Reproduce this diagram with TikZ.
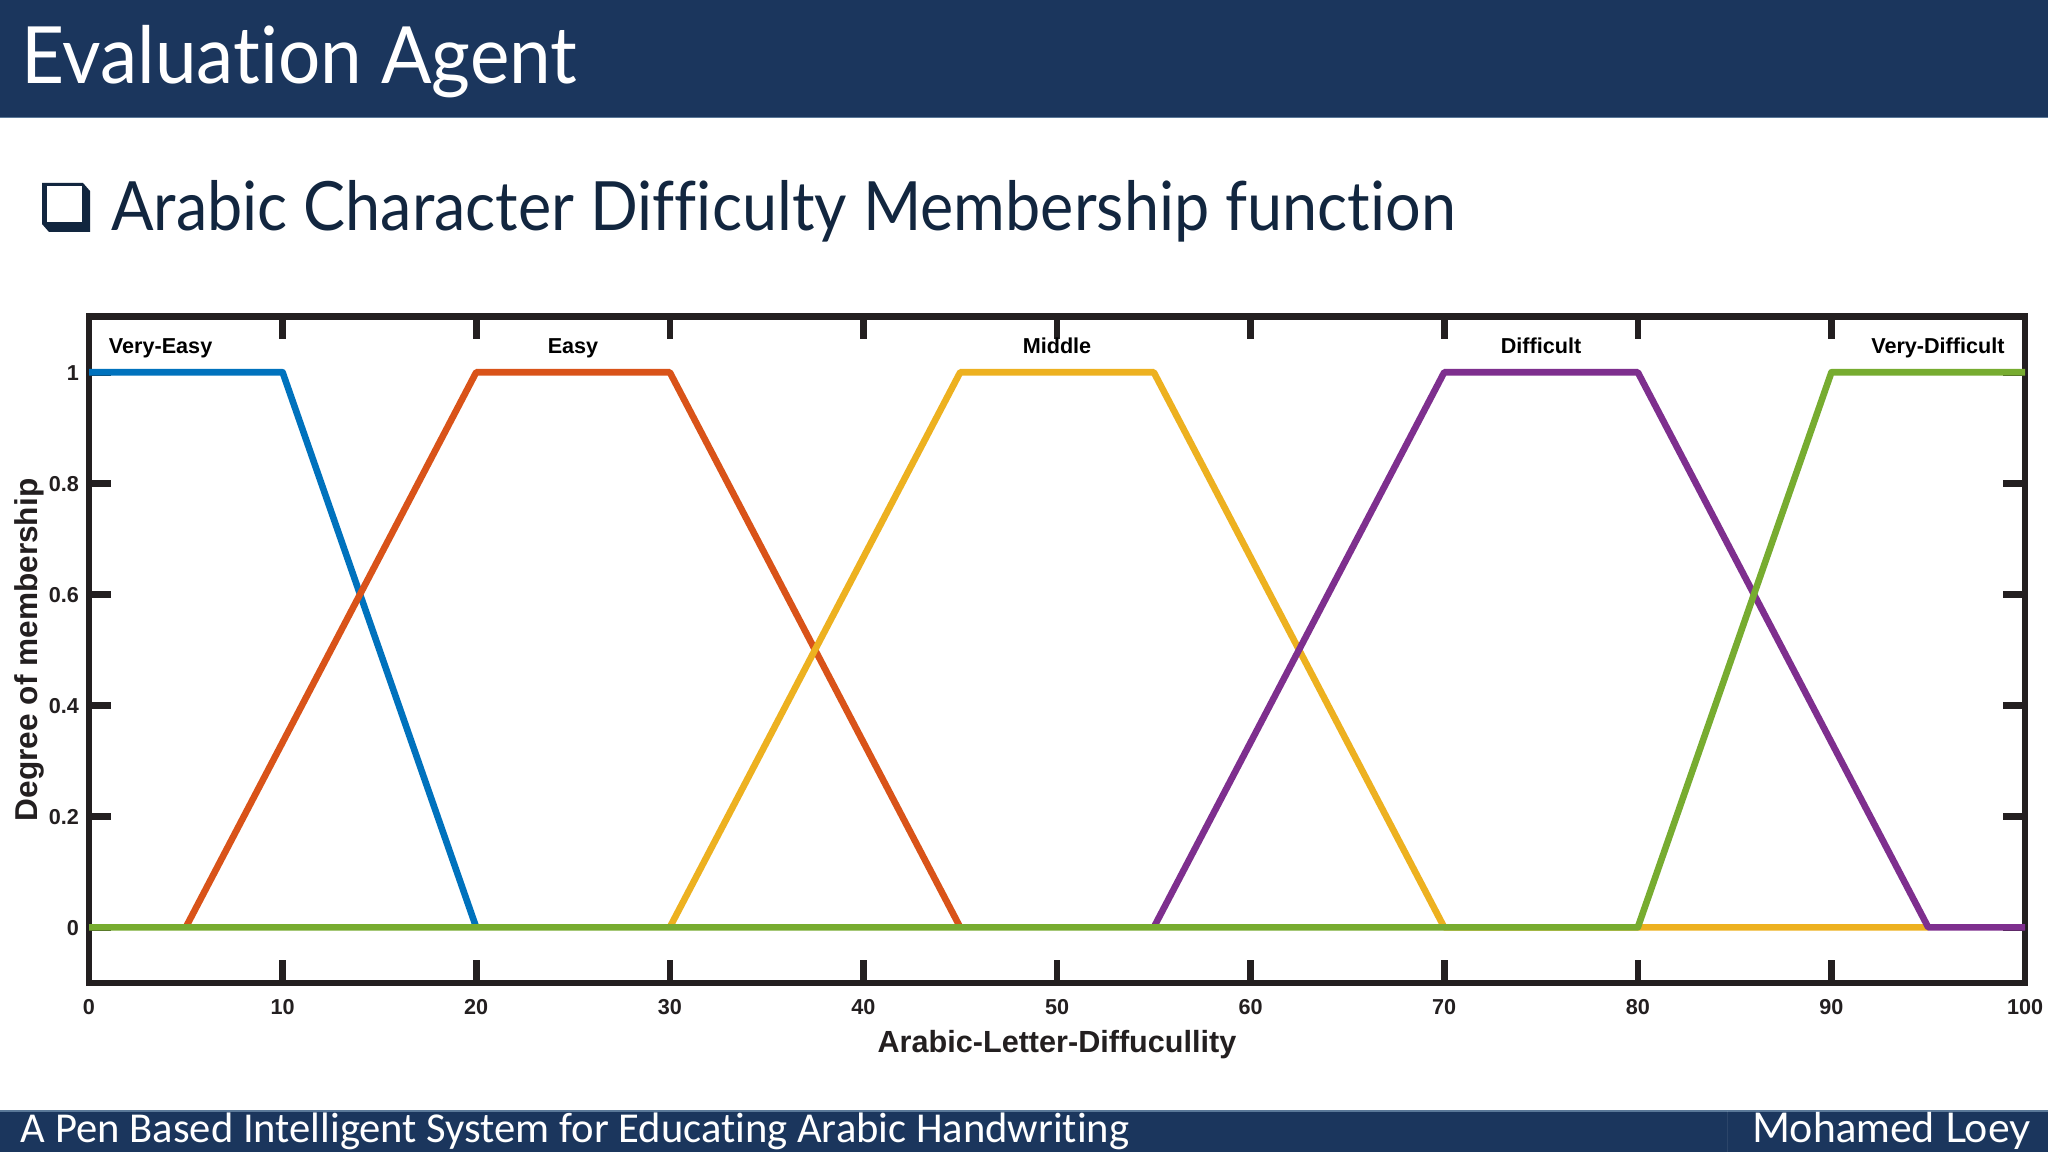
\documentclass[tikz,border=0pt]{standalone}
\usepackage{fontspec}
\setmainfont{Liberation Sans}
\newfontfamily\titlefont[Ligatures=NoCommon]{Lato}
\newfontfamily\footfont[Ligatures=NoCommon]{Carlito}
\definecolor{navy}{HTML}{1B365D}
\definecolor{navyedge}{HTML}{5A7898}
\definecolor{inkblue}{HTML}{12263F}
\definecolor{axisgray}{HTML}{231F20}
\definecolor{mblue}{HTML}{0072BD}
\definecolor{morange}{HTML}{D95319}
\definecolor{myellow}{HTML}{EDB120}
\definecolor{mpurple}{HTML}{7E2F8E}
\definecolor{mgreen}{HTML}{77AC30}
\tikzset{
  axisline/.style={draw=axisgray,line width=3.3pt},
  curve/.style={line width=3.3pt,line join=round},
  ticklabel/.style={font=\fontsize{10.8}{12}\selectfont\bfseries,text=axisgray,inner sep=0pt},
  setname/.style={font=\fontsize{10.8}{13}\selectfont\bfseries,text=black,inner sep=0pt,anchor=base},
  axisname/.style={font=\fontsize{15.3}{18}\selectfont\bfseries,text=axisgray,inner sep=0pt},
  slidetext/.style={anchor=base west,inner sep=0pt}
}
\begin{document}
\begin{tikzpicture}[x=0.5pt,y=0.5pt]
\useasboundingbox (0,0) rectangle (2048,1152);
\fill[white] (0,0) rectangle (2048,1152);

% header and footer bars
\fill[navy] (0,1034.5) rectangle (2048,1152);
\fill[navy] (0,0) rectangle (2048,41);
\draw[navyedge,line width=0.6pt] (0,1034.5) -- (2048,1034.5);
\draw[navyedge,line width=0.6pt] (0,41) -- (2048,41);
\draw[white,opacity=0.08,line width=0.5pt] (1727,0) -- (1727,41);

\node[slidetext,text=white,font=\titlefont\fontsize{39.5}{46}\selectfont] (title) at (21,1068.7) {\scalebox{0.945}[1]{Evaluation Agent}};
\node[slidetext,text=inkblue,font=\titlefont\fontsize{34}{40}\selectfont] (subtitle) at (110.7,921.3) {\scalebox{0.925}[1]{Arabic Character Difficulty Membership function}};
\node[slidetext,text=white,font=\footfont\fontsize{21.3}{25}\selectfont] (footer) at (20.5,9.5) {A Pen Based Intelligent System for Educating Arabic Handwriting};
\node[slidetext,text=white,font=\titlefont\fontsize{20.5}{24}\selectfont] (author) at (1752,9.5) {Mohamed Loey};

% bullet
\fill[inkblue] (42,969) -- (83,969) -- (90,961) -- (90,920) -- (49,920) -- (42,928) -- cycle;
\fill[white] (47,966) rectangle (82,930);

% plot
\begin{scope}[shift={(89,224.7)},x=9.68pt,y=277.5pt]
    \draw[axisline] (0,-0.1) rectangle (100,1.1);
    \foreach \t in {10,20,...,90} {
        \draw[axisline] (\t,-0.1) -- (\t,-0.0595);
        \draw[axisline] (\t,1.1) -- (\t,1.0595);
        \node[ticklabel] (xtick\t) at (\t,-0.1432) {\t};
    }
    \node[ticklabel] (xtick0) at (0,-0.1432) {0};
    \node[ticklabel] (xtick100) at (100,-0.1432) {100};
    \foreach \t in {0,0.2,0.4,0.6,0.8,1} {
        \draw[axisline] (0,\t) -- (1.16,\t);
        \draw[axisline] (100,\t) -- (98.84,\t);
        \node[ticklabel,anchor=east] (ytick\t) at (-0.5,\t-0.002) {\t};
    }

    \draw[curve,mblue] (0,1) -- (10,1) -- (20,0);
    \draw[curve,morange] (5,0) -- (20,1) -- (30,1) -- (45,0);
    \draw[curve,myellow] (30,0) -- (45,1) -- (55,1) -- (70,0) -- (95,0);
    \draw[curve,mpurple] (55,0) -- (70,1) -- (80,1) -- (95,0) -- (100,0);
    \draw[curve,mgreen] (0,0) -- (80,0) -- (90,1) -- (100,1);

    \node[setname] (veryeasy) at (3.7,1.0335) {Very-Easy};
    \node[setname] (easy) at (25,1.0335) {Easy};
    \node[setname] (middle) at (50,1.0335) {Middle};
    \node[setname] (difficult) at (75,1.0335) {Difficult};
    \node[setname] (verydifficult) at (95.5,1.0335) {Very-Difficult};

    \node[axisname] (xname) at (50,-0.212) {Arabic-Letter-Diffucullity};
    \node[axisname,font=\fontsize{15.8}{18}\selectfont\bfseries,rotate=90] (yname) at (-3.1,0.5) {Degree of membership};
\end{scope}
\end{tikzpicture}
\end{document}
